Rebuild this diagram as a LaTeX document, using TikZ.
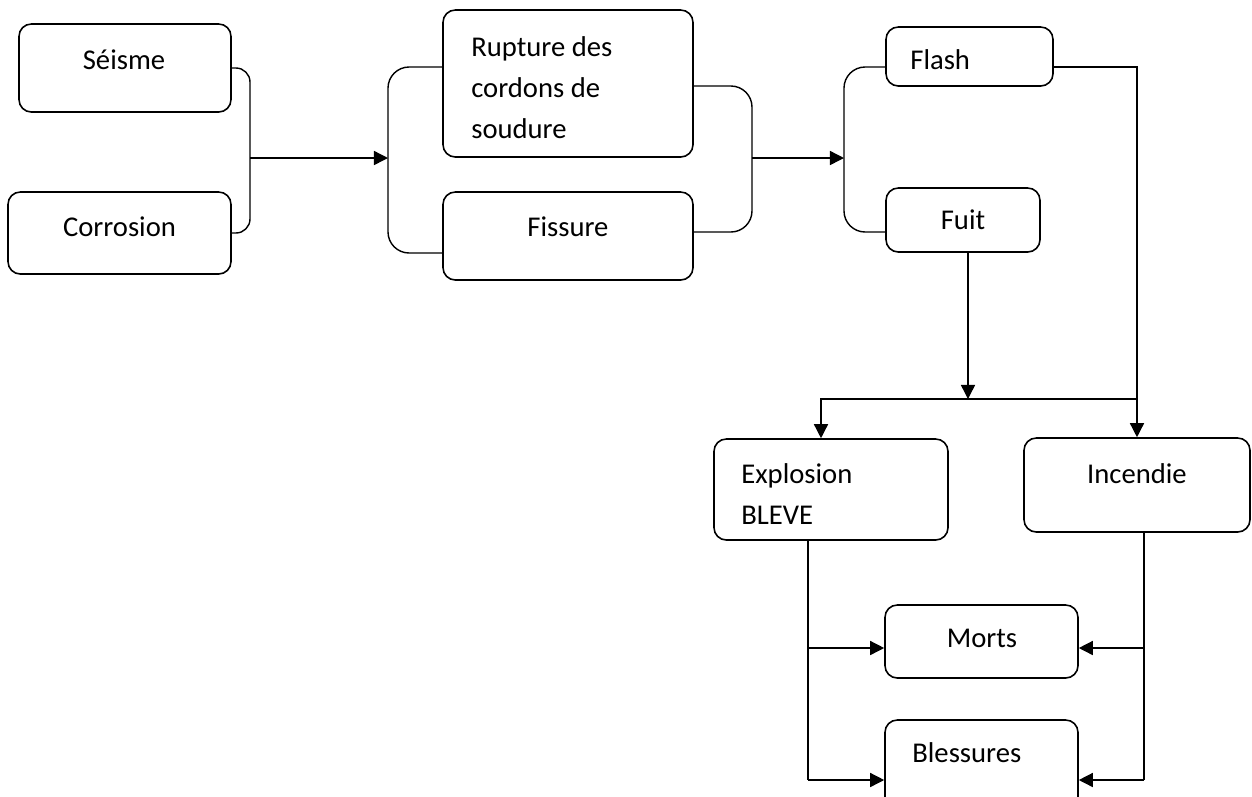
\documentclass[tikz,border=0pt]{standalone}
\usepackage{fontspec}
\setmainfont{Carlito}
\usetikzlibrary{arrows.meta,positioning,calc}

\begin{document}
\begin{tikzpicture}[x=0.02cm, y=-0.02cm,
    box/.style={draw, line width=0.9pt, rounded corners=7pt, inner sep=0pt},
    lbl/.style={font=\fontsize{16.3}{23.3}\selectfont, inner sep=0pt},
    link/.style={line width=0.8pt},
    arr/.style={link, -{Triangle[length=8pt,width=8pt]}}]
  \useasboundingbox (0,0) rectangle (1252,796);

  % boxes
  \node[box, minimum width=212*0.02cm, minimum height=88*0.02cm] (seisme) at (125,68) {};
  \node[box, minimum width=223*0.02cm, minimum height=82*0.02cm] (corrosion) at (119.5,233) {};
  \node[box, minimum width=250*0.02cm, minimum height=147*0.02cm] (rupture) at (568,83.5) {};
  \node[box, minimum width=250*0.02cm, minimum height=88*0.02cm] (fissure) at (568,236) {};
  \node[box, minimum width=167*0.02cm, minimum height=59*0.02cm] (flash) at (969.5,56.5) {};
  \node[box, minimum width=154*0.02cm, minimum height=64*0.02cm] (fuit) at (963,220) {};
  \node[box, minimum width=234*0.02cm, minimum height=101*0.02cm] (explosion) at (831,489.5) {};
  \node[box, minimum width=226*0.02cm, minimum height=94*0.02cm] (incendie) at (1137,485) {};
  \node[box, minimum width=193*0.02cm, minimum height=73*0.02cm] (morts) at (981.5,641.5) {};
  \node[box, minimum width=193*0.02cm, minimum height=92*0.02cm] (blessures) at (981.5,766) {};

  % texts
  \node[lbl] (seisme-t) at (124,60) {Séisme};
  \node[lbl] (corrosion-t) at (119.5,227) {Corrosion};
  \node[lbl, anchor=west, align=left] (rupture-t) at (471,88) {Rupture des\\cordons de\\soudure};
  \node[lbl] (fissure-t) at (568,227) {Fissure};
  \node[lbl, anchor=west] (flash-t) at (910,60) {Flash};
  \node[lbl] (fuit-t) at (963,220) {Fuit};
  \node[lbl, anchor=west, align=left] (explosion-t) at (741,494.5) {Explosion\\BLEVE};
  \node[lbl] (incendie-t) at (1137,474) {Incendie};
  \node[lbl] (morts-t) at (982,638) {Morts};
  \node[lbl, anchor=west] (blessures-t) at (912,753) {Blessures};

  % junctions
  \coordinate (j1) at (250,158);
  \coordinate (j2) at (388,158);
  \coordinate (j3) at (752,158);
  \coordinate (j4) at (844,158);
  \coordinate (j5) at (968,399);
  \coordinate (j6) at (1137,399);
  \coordinate (j7) at (821,399);
  \coordinate (j8) at (808,780);
  \coordinate (j9) at (1144,780);

  % causes
  \draw[link, rounded corners=8pt] (seisme.east) -- (seisme.east -| j1) -- (corrosion.east -| j1) -- (corrosion.east);
  \draw[arr] (j1) -- (j2);
  \draw[link, rounded corners=12pt] (rupture.west |- 0,67) -- (j2 |- 0,67) -- (j2 |- 0,253) -- (fissure.west |- 0,253);
  \draw[link, rounded corners=12pt] (rupture.east |- 0,86) -- (j3 |- 0,86) -- (j3 |- 0,232) -- (fissure.east |- 0,232);
  \draw[arr] (j3) -- (j4);
  \draw[link, rounded corners=12pt] (flash.west |- 0,67) -- (j4 |- 0,67) -- (j4 |- 0,232) -- (fuit.west |- 0,232);

  % effects
  \draw[arr] (flash.east |- 0,67) -| (incendie.north);
  \draw[arr] (j5 |- fuit.south) -- (j5);
  \draw[arr] (j6) -- (j7) -- (j7 |- explosion.north);
  \draw[link] (j8 |- explosion.south) -- (j8);
  \draw[arr] (j8 |- 0,648) -- (morts.west |- 0,648);
  \draw[arr] (j8) -- (blessures.west |- j8);
  \draw[link] (j9 |- incendie.south) -- (j9);
  \draw[arr] (j9 |- 0,648) -- (morts.east |- 0,648);
  \draw[arr] (j9) -- (blessures.east |- j9);
\end{tikzpicture}
\end{document}
